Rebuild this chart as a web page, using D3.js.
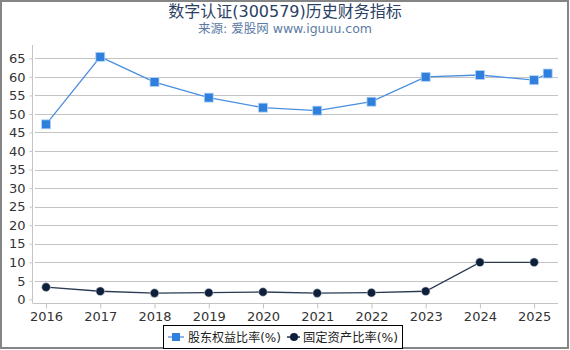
<!DOCTYPE html>
<html><head><meta charset="utf-8">
<script src="https://cdn.jsdelivr.net/npm/d3@7"></script>
<style>body{margin:0;background:#fff}svg{display:block;font-family:"DejaVu Sans","Noto Sans CJK SC",sans-serif}</style>
</head><body>
<svg id="c" width="570" height="350"></svg>
<script>
const titleText = "数字认证(300579)历史财务指标";
const subtitleText = "来源: 爱股网 www.iguuu.com";
const seriesNames = ["股东权益比率(%)", "固定资产比率(%)"];
const yearTicks = [2016,2017,2018,2019,2020,2021,2022,2023,2024,2025];
const equityX = [2016,2017,2018,2019,2020,2021,2022,2023,2024,2025,2025.25];
const equityY = [47.2,65.4,58.6,54.4,51.7,50.9,53.3,60.0,60.5,59.1,60.9];
const fixedX = [2016,2017,2018,2019,2020,2021,2022,2023,2024,2025];
const fixedY = [3.3,2.2,1.7,1.8,2.0,1.7,1.8,2.2,10.0,10.0];
const yTicks = [0,5,10,15,20,25,30,35,40,45,50,55,60,65];

const svg = d3.select("#c");
const x = d3.scaleLinear().domain([2015.75, 2025.44]).range([32.5, 558]);
const y = d3.scaleLinear().domain([0, 65]).range([299.4, 58.3]);

svg.append("rect").attr("x",1).attr("y",1).attr("width",567).attr("height",347)
  .attr("fill","none").attr("stroke","#858585").attr("stroke-width",2);

svg.append("text").attr("x",285).attr("y",17).attr("text-anchor","middle")
  .attr("font-size",16).attr("fill","#2b4164").text(titleText);
svg.append("text").attr("x",285).attr("y",33).attr("text-anchor","middle")
  .attr("font-size",12.5).attr("fill","#5b7ba3").text(subtitleText);

// grid
svg.append("g").selectAll("line").data(yTicks.filter(d=>d>0)).join("line")
  .attr("x1",35).attr("x2",558).attr("y1",d=>Math.round(y(d))+0.5).attr("y2",d=>Math.round(y(d))+0.5)
  .attr("stroke","#c4c4c4").attr("stroke-width",1);

// y axis
const ya = svg.append("g").attr("transform","translate(32.5,0)")
  .call(d3.axisLeft(y).tickValues(yTicks).tickSize(3).tickPadding(4));
ya.select(".domain").attr("stroke","#c4c4c4").attr("d","M0,45V303");
ya.selectAll(".tick line").attr("stroke","#c4c4c4");
ya.selectAll(".tick text").attr("font-size",13).attr("fill","#333").attr("font-family","DejaVu Sans");

// x axis
const xa = svg.append("g").attr("transform","translate(0,303.5)")
  .call(d3.axisBottom(x).tickValues(yearTicks).tickFormat(d3.format("d")).tickSize(5).tickPadding(3));
xa.select(".domain").attr("stroke","#c4c4c4").attr("d","M32.5,0H558");
xa.selectAll(".tick line").attr("stroke","#c4c4c4");
xa.selectAll(".tick text").attr("font-size",13).attr("fill","#333").attr("font-family","DejaVu Sans");

const blue = "#2f80dc", navy = "#0e1f3a";
const line = d3.line().x(d=>x(d[0])).y(d=>y(d[1]));
const eq = equityX.map((v,i)=>[v,equityY[i]]);
const fx = fixedX.map((v,i)=>[v,fixedY[i]]);

svg.append("path").datum(eq).attr("d",line).attr("fill","none").attr("stroke","#4a8fe0").attr("stroke-width",1.3);
svg.append("g").selectAll("rect").data(eq).join("rect")
  .attr("x",d=>x(d[0])-4.5).attr("y",d=>y(d[1])-4.5).attr("width",9).attr("height",9)
  .attr("fill",blue).attr("stroke","#b9d4f4").attr("stroke-width",0.8);

svg.append("path").datum(fx).attr("d",line).attr("fill","none").attr("stroke","#2a3a52").attr("stroke-width",1.3);
svg.append("g").selectAll("circle").data(fx).join("circle")
  .attr("cx",d=>x(d[0])).attr("cy",d=>y(d[1])).attr("r",4.3)
  .attr("fill",navy).attr("stroke","#c0c8d4").attr("stroke-width",0.6);

// legend
const lg = svg.append("g");
lg.append("rect").attr("x",163.5).attr("y",325.5).attr("width",239).attr("height",23)
  .attr("fill","#fff").attr("stroke","#000").attr("stroke-width",1);
lg.append("line").attr("x1",168).attr("x2",184).attr("y1",337).attr("y2",337).attr("stroke","#8ab6ea").attr("stroke-width",2);
lg.append("rect").attr("x",172).attr("y",333).attr("width",8).attr("height",8).attr("fill",blue);
lg.append("text").attr("x",188).attr("y",342).attr("font-size",12.5).attr("fill","#222")
  .attr("textLength",93).attr("lengthAdjust","spacingAndGlyphs").text(seriesNames[0]);
lg.append("line").attr("x1",287).attr("x2",300).attr("y1",337).attr("y2",337).attr("stroke","#566476").attr("stroke-width",2);
lg.append("circle").attr("cx",294).attr("cy",337).attr("r",4).attr("fill",navy);
lg.append("text").attr("x",303).attr("y",342).attr("font-size",12.5).attr("fill","#222")
  .attr("textLength",95).attr("lengthAdjust","spacingAndGlyphs").text(seriesNames[1]);
</script>
</body></html>
